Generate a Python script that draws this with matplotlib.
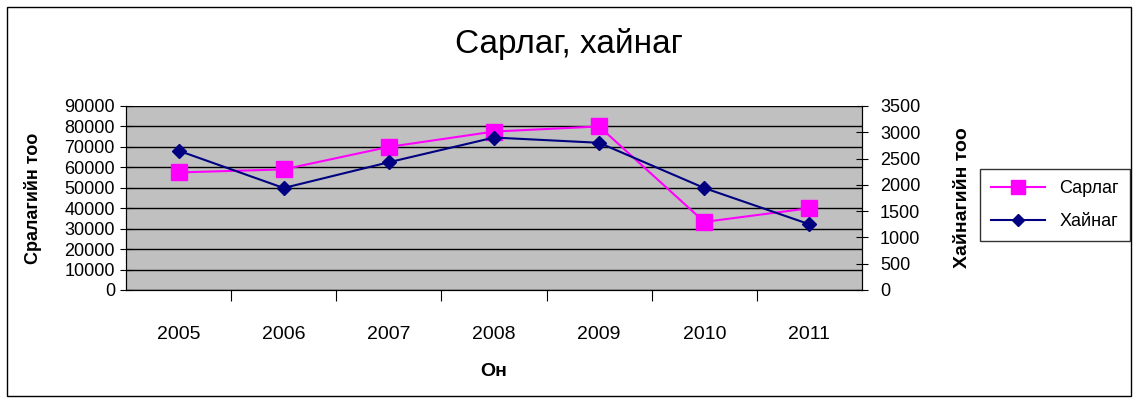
import matplotlib.pyplot as plt
import matplotlib.patches as patches
from matplotlib.lines import Line2D

plt.rcParams['font.family'] = ['Liberation Sans', 'DejaVu Sans']

years = ['2005', '2006', '2007', '2008', '2009', '2010', '2011']
sarlag = [57500, 59000, 70000, 77500, 80000, 33300, 40000]
hainag = [2650, 1940, 2430, 2900, 2800, 1940, 1250]

fig = plt.figure(figsize=(11.38, 4), dpi=100)
ax = fig.add_axes([126 / 1138, 1 - 290 / 400, (862 - 126) / 1138, 184 / 400])
ax.set_facecolor('#c0c0c0')

x = list(range(len(years)))
ax.plot(x, sarlag, color='#ff00ff', marker='s', markersize=11, linewidth=1.5, zorder=3)
ax.set_xlim(-0.5, len(years) - 0.5)
ax.set_ylim(0, 90000)
ax.set_yticks(range(0, 90001, 10000))
ax.tick_params(axis='y', labelsize=13, direction='inout', length=8, pad=4)
ax.grid(axis='y', color='black', linewidth=1)
ax.set_xticks([i + 0.5 for i in x[:-1]])
ax.set_xticklabels([])
ax.set_xticks(x, minor=True)
ax.set_xticklabels(years, minor=True, fontsize=14)
ax.tick_params(axis='x', which='major', direction='out', length=8)
ax.tick_params(axis='x', which='minor', length=0, pad=26)
ax.set_ylabel('Сралагийн тоо', fontsize=13, fontweight='bold', labelpad=16)
ax.set_xlabel('Он', fontsize=14, fontweight='bold', labelpad=14)

ax2 = ax.twinx()
ax2.plot(x, hainag, color='#000080', marker='D', markersize=7.5, linewidth=1.5, zorder=3)
ax2.set_ylim(0, 3500)
ax2.set_yticks(range(0, 3501, 500))
ax2.tick_params(axis='y', labelsize=13, direction='inout', length=8, pad=9)
ax2.set_ylabel('Хайнагийн тоо', fontsize=14, fontweight='bold', labelpad=24)

for a in (ax, ax2):
    for s in a.spines.values():
        s.set_color('black')
ax.spines['top'].set_visible(False)
ax2.spines['top'].set_visible(False)

fig.suptitle('Сарлаг, хайнаг', fontsize=24, y=0.93)

handles = [
    Line2D([], [], color='#ff00ff', marker='s', markersize=10, linewidth=1.5),
    Line2D([], [], color='#000080', marker='D', markersize=6, linewidth=1.5),
]
fig.legend(handles, ['Сарлаг', 'Хайнаг'], loc='center', bbox_to_anchor=(1055 / 1138, 1 - 205 / 400),
           fontsize=13, frameon=True, fancybox=False, edgecolor='black', handlelength=3,
           labelspacing=0.9, borderpad=0.6)

fig.patches.append(patches.Rectangle((7 / 1138, 4 / 400), 1124 / 1138, 389 / 400, transform=fig.transFigure,
                                     fill=False, edgecolor='black', linewidth=1))

fig.savefig('out.png', dpi=100)
